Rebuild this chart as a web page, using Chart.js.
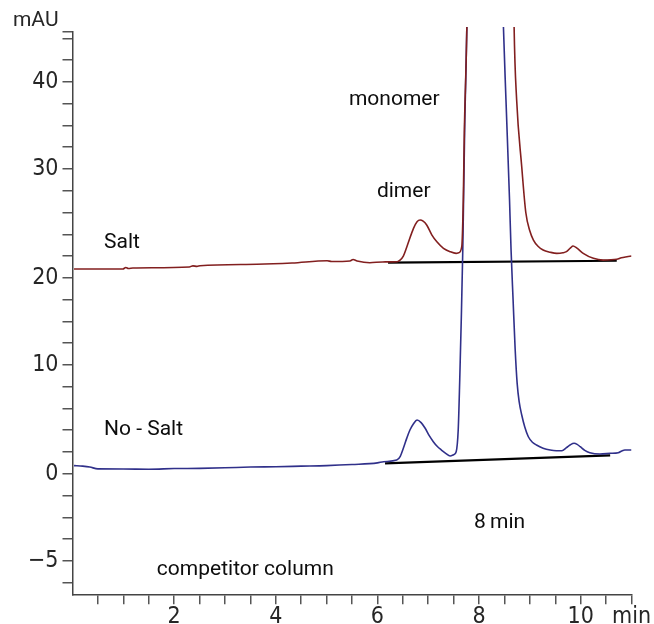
<!DOCTYPE html>
<html>
<head>
<meta charset="utf-8">
<script src="https://cdn.jsdelivr.net/npm/chart.js@4.4.1/dist/chart.umd.min.js"></script>
<style>
    html, body { margin: 0; padding: 0; background: #ffffff; }
    #wrap { width: 654px; height: 624px; }
</style>
</head>
<body>
<div id="wrap"><canvas id="chromChart" width="654" height="624"></canvas></div>
<script>
// Cromatograma: tempo (min) x absorbância (mAU)
const saltTime = [0.03, 0.99, 1.05, 1.10, 1.19, 2.30, 2.37, 2.45, 2.51, 3.63, 4.32, 5.01, 5.10, 5.46, 5.52, 5.60, 5.85, 6.10, 6.39, 6.44, 6.51, 6.58, 6.71, 6.78, 6.84, 6.90, 6.97, 7.07, 7.17, 7.30, 7.43, 7.55, 7.60, 7.66, 7.69, 7.71, 7.76, 7.77, 8.68, 8.69, 8.74, 8.84, 8.92, 9.00, 9.07, 9.16, 9.26, 9.40, 9.53, 9.65, 9.72, 9.80, 9.85, 9.92, 10.05, 10.25, 10.44, 10.71, 10.80, 10.91, 11.00];
const saltAbs = [18.81, 18.81, 18.95, 18.86, 18.90, 19.00, 19.10, 19.05, 19.11, 19.24, 19.36, 19.57, 19.50, 19.55, 19.68, 19.55, 19.39, 19.46, 19.48, 19.60, 20.00, 20.86, 22.54, 23.15, 23.31, 23.20, 22.85, 21.95, 21.31, 20.71, 20.40, 20.25, 20.30, 20.86, 25.14, 31.30, 41.03, 45, 45, 41.03, 34.33, 28.20, 24.00, 22.30, 21.47, 20.90, 20.55, 20.35, 20.25, 20.30, 20.40, 20.75, 20.92, 20.75, 20.25, 19.79, 19.63, 19.70, 19.85, 19.94, 20.00];

const noSaltTime = [0.03, 0.20, 0.34, 0.50, 1.00, 1.50, 2.00, 2.50, 3.00, 3.50, 4.00, 4.50, 5.00, 5.50, 6.00, 6.12, 6.38, 6.45, 6.51, 6.58, 6.64, 6.71, 6.78, 6.86, 6.94, 7.02, 7.10, 7.18, 7.26, 7.35, 7.43, 7.50, 7.55, 7.59, 7.62, 7.65, 7.68, 7.72, 7.76, 7.77, 8.46, 8.48, 8.53, 8.60, 8.63, 8.67, 8.71, 8.75, 8.79, 8.84, 8.90, 8.97, 9.05, 9.13, 9.26, 9.40, 9.52, 9.63, 9.72, 9.79, 9.87, 9.93, 9.99, 10.08, 10.18, 10.38, 10.58, 10.74, 10.81, 10.87, 11.00];
const noSaltAbs = [0.75, 0.70, 0.62, 0.45, 0.44, 0.42, 0.48, 0.50, 0.55, 0.62, 0.65, 0.70, 0.75, 0.85, 1.00, 1.11, 1.26, 1.60, 2.34, 3.30, 4.02, 4.60, 4.94, 4.70, 4.18, 3.50, 2.95, 2.50, 2.18, 1.85, 1.63, 1.75, 2.03, 4.02, 8.61, 14.12, 20.55, 32.49, 41.03, 45, 45, 41.03, 34.33, 25.14, 20.55, 15.96, 11.50, 8.30, 6.60, 5.40, 4.30, 3.40, 2.90, 2.64, 2.35, 2.18, 2.12, 2.12, 2.40, 2.64, 2.80, 2.70, 2.49, 2.15, 1.94, 1.82, 1.88, 1.94, 2.10, 2.18, 2.18];

// linhas de base da integração
const saltBaseTime = [6.21, 10.71];
const saltBaseAbs = [19.39, 19.57];
const noSaltBaseTime = [6.15, 10.58];
const noSaltBaseAbs = [0.96, 1.70];

// marcas dos eixos
const xTickValues = [0.5, 1, 1.5, 2, 2.5, 3, 3.5, 4, 4.5, 5, 5.5, 6, 6.5, 7, 7.5, 8, 8.5, 9, 9.5, 10, 10.5, 11];
const xLabelValues = [2, 4, 6, 8, 10, 11];
const xLabelTexts = ['2', '4', '6', '8', '10', 'min'];
const yTickValues = [-10, -8, -6, -4, -2, 0, 2, 4, 6, 8, 10, 12, 14, 16, 18, 20, 22, 24, 26, 28, 30, 32, 34, 36, 38, 40, 40.58];
const yLabelValues = [-8, 0, 10, 18, 28, 36];
const yLabelTexts = ['\u22125', '0', '10', '20', '30', '40'];

function toPoints(xs, ys) {
    return xs.map(function(v, i) { return { x: v, y: ys[i] }; });
}

// textos da figura (ancorados nas escalas)
const notes = [
    { text: 'monomer', x: 5.44, y: 34.33 },
    { text: 'dimer', x: 5.99, y: 25.88 },
    { text: 'Salt', x: 0.62, y: 21.2 },
    { text: 'No - Salt', x: 0.62, y: 4.02 },
    { text: '8\u2009min', x: 7.90, y: -4.52 },
    { text: 'competitor column', x: 1.66, y: -8.84 }
];

const notesPlugin = {
    id: 'notesPlugin',
    afterDraw: function(chart) {
        const ctx = chart.ctx;
        const xs = chart.scales.x;
        const ys = chart.scales.y;
        const area = chart.chartArea;
        ctx.save();
        ctx.fillStyle = '#0d0d0d';
        ctx.textBaseline = 'middle';
        ctx.textAlign = 'left';
        ctx.font = '21px Roboto, "Liberation Sans", sans-serif';
        notes.forEach(function(n) {
            ctx.fillText(n.text, xs.getPixelForValue(n.x), ys.getPixelForValue(n.y));
        });
        ctx.fillStyle = '#262626';
        ctx.textAlign = 'right';
        ctx.fillText('mAU', area.left - 14, area.top - 11);
        ctx.restore();
    }
};

function initChromChart() {
    const ctx = document.getElementById('chromChart');
    const tickFont = { family: '"Liberation Sans Narrow", "DejaVu Sans Condensed", Roboto, sans-serif', size: 23 };

    new Chart(ctx, {
        type: 'line',
        data: {
            datasets: [
                {
                    label: 'Salt',
                    data: toPoints(saltTime, saltAbs),
                    borderColor: '#821f1f',
                    borderWidth: 1.6,
                    pointRadius: 0,
                    cubicInterpolationMode: 'monotone',
                    clip: { left: 0, top: 5, right: 0, bottom: 0 }
                },
                {
                    label: 'No - Salt',
                    data: toPoints(noSaltTime, noSaltAbs),
                    borderColor: '#30308a',
                    borderWidth: 1.6,
                    pointRadius: 0,
                    cubicInterpolationMode: 'monotone',
                    clip: { left: 0, top: 5, right: 0, bottom: 0 }
                },
                {
                    label: 'base salt',
                    data: toPoints(saltBaseTime, saltBaseAbs),
                    borderColor: '#000000',
                    borderWidth: 2.2,
                    pointRadius: 0
                },
                {
                    label: 'base no salt',
                    data: toPoints(noSaltBaseTime, noSaltBaseAbs),
                    borderColor: '#000000',
                    borderWidth: 2.2,
                    pointRadius: 0
                }
            ]
        },
        options: {
            responsive: false,
            animation: false,
            layout: { padding: { left: 0, right: 22.5, top: 32, bottom: 0 } },
            plugins: {
                legend: { display: false },
                tooltip: { enabled: false }
            },
            scales: {
                x: {
                    type: 'linear',
                    min: 0,
                    max: 11,
                    afterBuildTicks: function(scale) {
                        scale.ticks = xTickValues.map(function(v) { return { value: v }; });
                    },
                    afterFit: function(scale) { scale.height = 29.7; },
                    grid: { drawOnChartArea: false, drawTicks: true, tickLength: 10, color: '#555555', lineWidth: 1.5 },
                    border: { color: '#444444', width: 1.5 },
                    ticks: {
                        autoSkip: false,
                        maxRotation: 0,
                        padding: -1,
                        color: '#262626',
                        font: tickFont,
                        callback: function(value) {
                            const i = xLabelValues.indexOf(value);
                            return i >= 0 ? xLabelTexts[i] : '';
                        }
                    }
                },
                y: {
                    type: 'linear',
                    min: -11.07,
                    max: 40.58,
                    afterBuildTicks: function(scale) {
                        scale.ticks = yTickValues.map(function(v) { return { value: v }; });
                    },
                    afterFit: function(scale) { scale.width = 72.5; },
                    grid: { drawOnChartArea: false, drawTicks: true, tickLength: 10, color: '#555555', lineWidth: 1.5 },
                    border: { color: '#444444', width: 1.5 },
                    ticks: {
                        autoSkip: false,
                        padding: 4,
                        color: '#262626',
                        font: tickFont,
                        callback: function(value) {
                            const i = yLabelValues.indexOf(value);
                            return i >= 0 ? yLabelTexts[i] : '';
                        }
                    }
                }
            }
        },
        plugins: [notesPlugin]
    });
}

document.addEventListener('DOMContentLoaded', initChromChart);
</script>
</body>
</html>
